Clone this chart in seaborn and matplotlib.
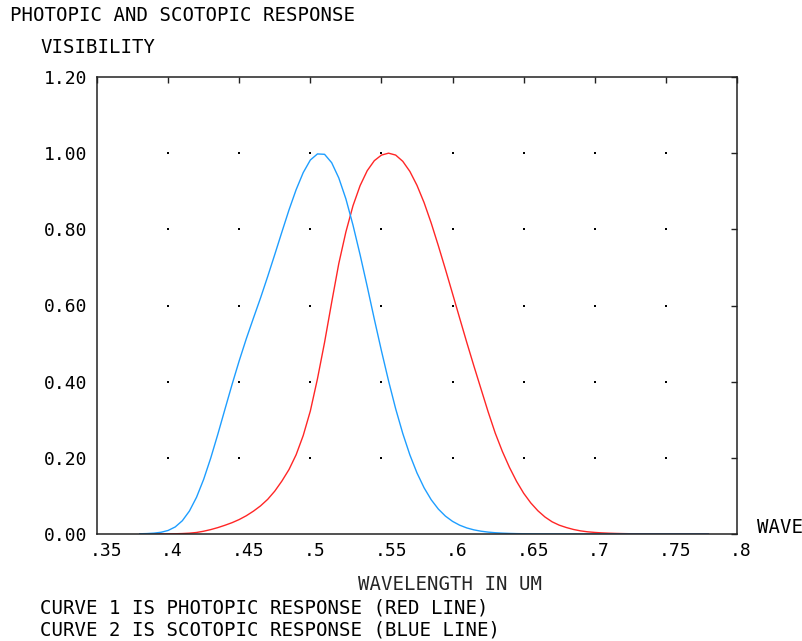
import matplotlib
matplotlib.use("Agg")
import matplotlib.pyplot as plt
import seaborn as sns
import pandas as pd
from matplotlib.transforms import ScaledTranslation

# ---------------- data ----------------
wavelength_nm = [380, 385, 390, 395, 400, 405, 410, 415, 420, 425,
                 430, 435, 440, 445, 450, 455, 460, 465, 470, 475,
                 480, 485, 490, 495, 500, 505, 510, 515, 520, 525,
                 530, 535, 540, 545, 550, 555, 560, 565, 570, 575,
                 580, 585, 590, 595, 600, 605, 610, 615, 620, 625,
                 630, 635, 640, 645, 650, 655, 660, 665, 670, 675,
                 680, 685, 690, 695, 700, 705, 710, 715, 720, 725,
                 730, 735, 740, 745, 750, 755, 760, 765, 770, 775, 780]

photopic = [0.000039, 0.000064, 0.00012, 0.000217, 0.000396, 0.00064, 0.00121, 0.00218, 0.004, 0.0073,
            0.0116, 0.01684, 0.023, 0.0298, 0.038, 0.048, 0.06, 0.0739, 0.09098, 0.1126,
            0.13902, 0.1693, 0.20802, 0.2586, 0.323, 0.4073, 0.503, 0.6082, 0.71, 0.7932,
            0.862, 0.91485, 0.954, 0.9803, 0.99495, 1.0, 0.995, 0.9786, 0.952, 0.9154,
            0.87, 0.8163, 0.757, 0.6949, 0.631, 0.5668, 0.503, 0.4412, 0.381, 0.321,
            0.265, 0.217, 0.175, 0.1382, 0.107, 0.0816, 0.061, 0.04458, 0.032, 0.0232,
            0.017, 0.01192, 0.00821, 0.005723, 0.004102, 0.002929, 0.002091, 0.001484, 0.001047, 0.00074,
            0.00052, 0.000361, 0.000249, 0.000172, 0.00012, 0.000085, 0.00006, 0.000042, 0.00003, 0.000021, 0.000015]

scotopic = [0.000589, 0.001108, 0.002209, 0.00453, 0.00929, 0.01852, 0.03484, 0.0604, 0.0966, 0.1436,
            0.1998, 0.2625, 0.3281, 0.3931, 0.455, 0.513, 0.567, 0.62, 0.676, 0.734,
            0.793, 0.851, 0.904, 0.949, 0.982, 0.998, 0.997, 0.975, 0.935, 0.88,
            0.811, 0.733, 0.65, 0.564, 0.481, 0.402, 0.3288, 0.2639, 0.2076, 0.1602,
            0.1212, 0.0899, 0.0655, 0.0469, 0.03315, 0.02312, 0.01593, 0.01088, 0.00737, 0.00497,
            0.003335, 0.002235, 0.001497, 0.001005, 0.000677, 0.000459, 0.0003129, 0.0002146, 0.000148, 0.0001026,
            0.0000715, 0.00005, 0.00003533, 0.00002502, 0.0000178, 0.0000127, 0.0000091, 0.0000066, 0.0000048, 0.0000035,
            0.0000026, 0.0000019, 0.0000014, 0.000001, 0.00000076, 0.00000057, 0.00000043, 0.00000032, 0.00000024, 0.00000018, 0.00000014]

x_ticks = [0.35, 0.40, 0.45, 0.50, 0.55, 0.60, 0.65, 0.70, 0.75, 0.80]
x_tick_labels = [".35", ".4", ".45", ".5", ".55", ".6", ".65", ".7", ".75", ".8"]
y_ticks = [0.0, 0.2, 0.4, 0.6, 0.8, 1.0, 1.2]
y_tick_labels = ["0.00", "0.20", "0.40", "0.60", "0.80", "1.00", "1.20"]

title = "PHOTOPIC AND SCOTOPIC RESPONSE"
y_title = "VISIBILITY"
x_title = "WAVELENGTH IN UM"
x_short = "WAVE"
notes = ["CURVE 1 IS PHOTOPIC RESPONSE (RED LINE)",
         "CURVE 2 IS SCOTOPIC RESPONSE (BLUE LINE)"]

# ---------------- figure ----------------
sns.set_style("white")
FONT = ["DejaVu Sans Mono", "DejaVu Sans"]
plt.rcParams["font.family"] = FONT

W, H = 803, 641
fig = plt.figure(figsize=(W / 100, H / 100), dpi=100)
L, R, T, B = 97, 737, 77, 534
ax = fig.add_axes([L / W, 1 - B / H, (R - L) / W, (B - T) / H])

df = pd.DataFrame({
    "wavelength": [w / 1000 for w in wavelength_nm] * 2,
    "value": photopic + scotopic,
    "curve": ["photopic"] * len(photopic) + ["scotopic"] * len(scotopic),
})
sns.lineplot(data=df, x="wavelength", y="value", hue="curve",
             palette={"photopic": "#FF2626", "scotopic": "#1E9EFF"},
             linewidth=1.0, legend=False, ax=ax, estimator=None, sort=False)

ax.set_xlim(x_ticks[0], x_ticks[-1])
ax.set_ylim(y_ticks[0], y_ticks[-1])
ax.set_xlabel("")
ax.set_ylabel("")

# grid dots at interior tick intersections
gx, gy = [], []
for xv in x_ticks[1:-1]:
    for yv in y_ticks[1:-1]:
        gx.append(xv)
        gy.append(yv)
ax.plot(gx, gy, ls="none", marker="s", ms=1.5, mew=0, color="black", zorder=1)

ax.set_xticks(x_ticks)
ax.set_xticklabels(x_tick_labels)
ax.set_yticks(y_ticks)
ax.set_yticklabels(y_tick_labels)
ax.tick_params(axis="both", which="both", direction="in", length=4.5, width=1.0,
               color="#222222", top=True, right=True, labelsize=13, labelcolor="black")
ax.tick_params(axis="x", pad=6)
ax.tick_params(axis="y", pad=7)
for lab in ax.get_xticklabels():
    lab.set_horizontalalignment("left")
    lab.set_transform(lab.get_transform() + ScaledTranslation(-7 / 100, 0, fig.dpi_scale_trans))

for sp in ax.spines.values():
    sp.set_visible(True)
    sp.set_color("#222222")
    sp.set_linewidth(1.1)

def ftext(px, py, s, **kw):
    fig.text(px / W, 1 - py / H, s, fontsize=13.7, color="black", va="baseline", ha="left", **kw)

ftext(10, 21, title)
ftext(40, 53, y_title)
ftext(757, 533, x_short)
fig.text(450 / W, 1 - 590 / H, x_title, fontsize=13.7, va="baseline", ha="center")
ftext(40, 613, notes[0])
ftext(40, 636, notes[1])

fig.savefig("out.png", dpi=100)
